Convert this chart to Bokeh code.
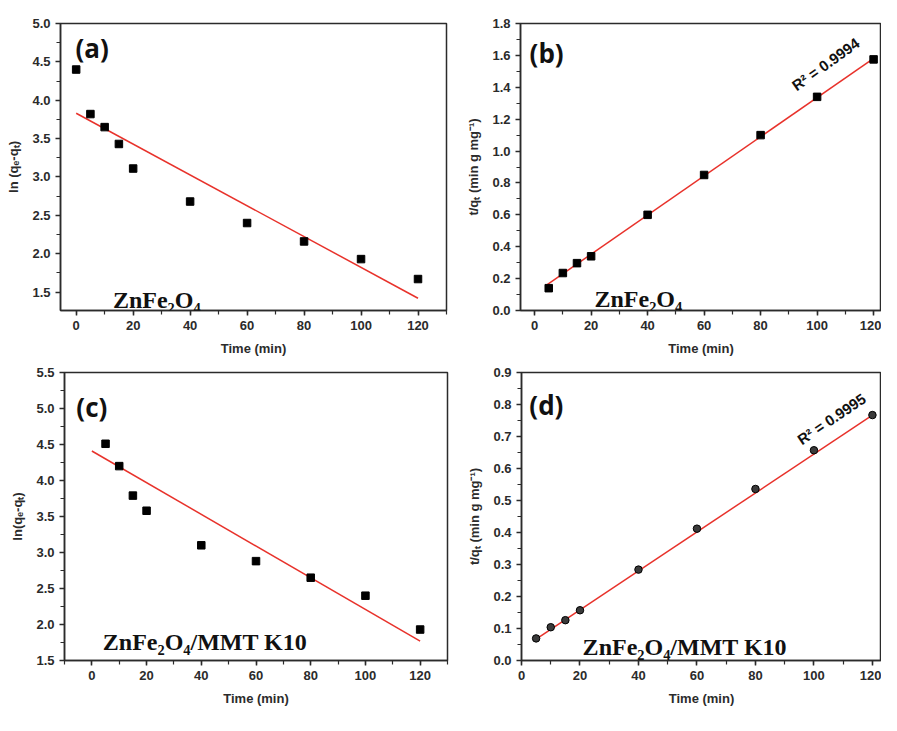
from bokeh.plotting import figure
from bokeh.layouts import column, row
from bokeh.models import SingleIntervalTicker, Label, Range1d, NumeralTickFormatter
from bokeh.embed import file_html
from bokeh.resources import INLINE

# ---- data ----
time_a = [0, 5, 10, 15, 20, 40, 60, 80, 100, 120]
ln_a = [4.40, 3.82, 3.65, 3.43, 3.11, 2.68, 2.40, 2.16, 1.93, 1.67]
fit_a_x = [0, 120]
fit_a_y = [3.83, 1.42]

time_b = [5, 10, 15, 20, 40, 60, 80, 100, 120]
tq_b = [0.14, 0.235, 0.297, 0.34, 0.60, 0.85, 1.10, 1.34, 1.575]
fit_b_x = [4.2, 120.4]
fit_b_y = [0.159, 1.586]

time_c = [5, 10, 15, 20, 40, 60, 80, 100, 120]
ln_c = [4.51, 4.20, 3.79, 3.58, 3.10, 2.88, 2.65, 2.40, 1.93]
fit_c_x = [0, 120]
fit_c_y = [4.41, 1.77]

time_d = [5, 10, 15, 20, 40, 60, 80, 100, 120]
tq_d = [0.069, 0.104, 0.126, 0.157, 0.284, 0.412, 0.536, 0.657, 0.767]
fit_d_x = [5, 120]
fit_d_y = [0.067, 0.767]

panel_tags = ["(a)", "(b)", "(c)", "(d)"]
sample_a = "ZnFe\u2082O\u2084"
sample_c = "ZnFe\u2082O\u2084/MMT K10"
r2_b = "R\u00b2 = 0.9994"
r2_d = "R\u00b2 = 0.9995"
xlabel = "Time (min)"
ylabel_ln_a = "ln (q\u2091-q\u209c)"
ylabel_ln_c = "ln(q\u2091-q\u209c)"
ylabel_t = "t/q\u209c (min g mg\u207b\u00b9)"

SANS = "Liberation Sans"
SERIF = "Liberation Serif"
DARK = "#2b2b2b"
RED = "#e8322b"


def make_fig(w, h, xr, yr, yint, ylab, bl, br, bt, bb):
    p = figure(width=w, height=h, x_range=Range1d(*xr), y_range=Range1d(*yr),
               output_backend="svg", toolbar_location=None,
               min_border_left=bl, min_border_right=br,
               min_border_top=bt, min_border_bottom=bb)
    p.grid.visible = False
    p.outline_line_color = DARK
    p.outline_line_width = 1.5
    p.background_fill_color = "white"
    p.border_fill_color = "white"
    p.xaxis.ticker = SingleIntervalTicker(interval=20, num_minor_ticks=2)
    p.yaxis.ticker = SingleIntervalTicker(interval=yint, num_minor_ticks=2)
    p.yaxis.formatter = NumeralTickFormatter(format="0.0")
    for ax in (p.xaxis[0], p.yaxis[0]):
        ax.axis_line_color = DARK
        ax.axis_line_width = 1.5
        ax.major_tick_line_color = DARK
        ax.major_tick_line_width = 1.5
        ax.minor_tick_line_color = DARK
        ax.minor_tick_line_width = 1.2
        ax.major_tick_in = 0
        ax.major_tick_out = 5
        ax.minor_tick_in = 0
        ax.minor_tick_out = 4
        ax.major_label_text_font = SANS
        ax.major_label_text_font_style = "bold"
        ax.major_label_text_font_size = "13px"
        ax.major_label_text_color = DARK
        ax.axis_label_text_font = SANS
        ax.axis_label_text_font_style = "bold"
        ax.axis_label_text_font_size = "13px"
        ax.axis_label_text_color = DARK
        ax.axis_label_standoff = 8
        ax.major_label_standoff = 5
    p.xaxis.axis_label = xlabel
    p.yaxis.axis_label = ylab
    return p


def tag(p, x, y, t):
    p.add_layout(Label(x=x, y=y, text=t, text_font="Open Sans", text_font_style="bold",
                       text_font_size="26px", text_align="center", text_baseline="middle",
                       text_color="#111111"))


def sample(p, x, y, t):
    p.add_layout(Label(x=x, y=y, text=t, text_font=SERIF, text_font_style="bold",
                       text_font_size="24px", text_align="left", text_baseline="alphabetic",
                       text_color="#111111"))


def r2(p, x, y, t, ang):
    p.add_layout(Label(x=x, y=y, text=t, text_font=SANS, text_font_style="bold",
                       text_font_size="15px", text_align="center", text_baseline="middle",
                       angle=ang, angle_units="deg", text_color="#111111"))


# (a)
pa = make_fig(452, 358, (-5.5, 130), (1.26, 5.0), 0.5, ylabel_ln_a, 60, 6, 20, 48)
pa.line(fit_a_x, fit_a_y, line_color=RED, line_width=1.5)
pa.scatter(time_a, ln_a, marker="square", size=7.5, fill_color="black", line_color="black")
tag(pa, 5.6, 4.685, panel_tags[0])
sample(pa, 12.9, 1.40, sample_a)

# (b)
pb = make_fig(429, 358, (-5, 122.8), (0, 1.8), 0.2, ylabel_t, 68, 0, 23, 48)
pb.line(fit_b_x, fit_b_y, line_color=RED, line_width=1.5)
pb.scatter(time_b, tq_b, marker="square", size=7.5, fill_color="black", line_color="black")
tag(pb, 4.25, 1.617, panel_tags[1])
sample(pb, 21.2, 0.073, sample_a)
r2(pb, 103.0, 1.545, r2_b, 35.5)

# (c)
pc = make_fig(452, 357, (-10, 130), (1.5, 5.5), 0.5, ylabel_ln_c, 64, 5, 14, 51)
pc.line(fit_c_x, fit_c_y, line_color=RED, line_width=1.5)
pc.scatter(time_c, ln_c, marker="square", size=7.5, fill_color="black", line_color="black")
tag(pc, 0.0, 5.02, panel_tags[2])
sample(pc, 4.0, 1.754, sample_c)

# (d)
pd = make_fig(429, 357, (0, 123.1), (0, 0.9), 0.1, ylabel_t, 69, 0, 14, 55)
pd.line(fit_d_x, fit_d_y, line_color=RED, line_width=1.5)
pd.scatter(time_d, tq_d, marker="circle", size=7.5, fill_color="#3a3a3a", line_color="black")
tag(pd, 8.5, 0.80, panel_tags[3])
sample(pd, 20.9, 0.043, sample_c)
r2(pd, 106.0, 0.755, r2_d, 34.0)

layout = column(row(pa, pb), row(pc, pd))
open("out.html", "w").write(file_html(layout, INLINE))
